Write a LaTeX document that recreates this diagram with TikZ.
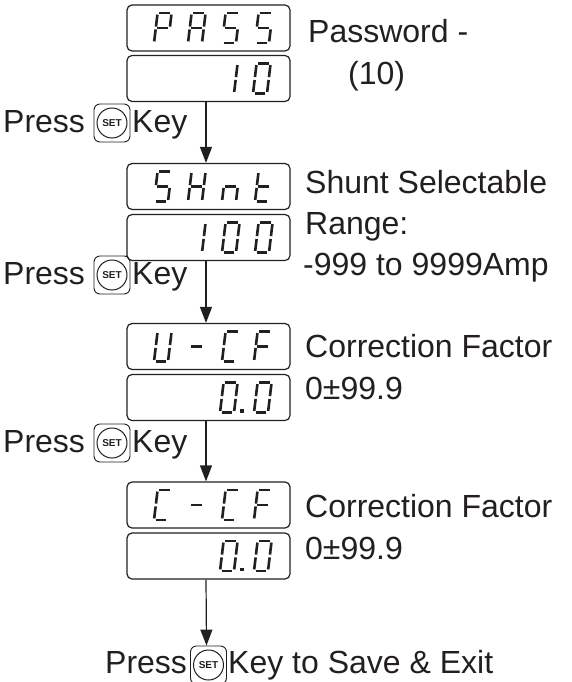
\documentclass[tikz,border=0pt]{standalone}
\usepackage{fontspec}
\setmainfont{Liberation Sans}
\usetikzlibrary{arrows.meta}
\definecolor{ink}{RGB}{35,31,32}
\expandafter\def\csname svsga\endcsname{(1.6,-30) -- (12.4,-30)}
\expandafter\def\csname svsgb\endcsname{(14,-28.4) -- (14,-16.4)}
\expandafter\def\csname svsgc\endcsname{(14,-13.6) -- (14,-1.6)}
\expandafter\def\csname svsgd\endcsname{(1.6,0) -- (12.4,0)}
\expandafter\def\csname svsge\endcsname{(0,-13.6) -- (0,-1.6)}
\expandafter\def\csname svsgf\endcsname{(0,-28.4) -- (0,-16.4)}
\expandafter\def\csname svsgg\endcsname{(1.6,-15) -- (12.4,-15)}
\newcommand\sevenseg[3]{%
  \begin{scope}[shift={(#1,#2)},xslant=0.12]
    \foreach \s in {#3}{\edef\svtmp{\noexpand\draw[segline] \csname svsg\s\endcsname;}\svtmp}
  \end{scope}}
\begin{document}
\begin{tikzpicture}[x=1pt,y=-1pt,
  box/.style={draw=ink, line width=1.2pt, rounded corners=5pt, minimum width=163pt, minimum height=46pt, inner sep=0},
  segline/.style={draw=ink, line width=2.6pt, line cap=butt},
  txt/.style={inner sep=0, anchor=base west, text=ink, font=\fontsize{32}{40}\selectfont},
  arr/.style={draw=ink, line width=1.2pt, -{Triangle[length=16pt,width=12pt]}},
  keyrect/.style={draw=ink, rounded corners=6pt, minimum width=36pt, minimum height=38pt, inner sep=0, line width=0.9pt},
  keycirc/.style={draw=ink, circle, minimum size=30pt, inner sep=0, line width=1pt, text=ink, font=\fontsize{10}{10}\bfseries\selectfont}]
\useasboundingbox (0,0) rectangle (571,682);
% display boxes
\node[box] (b1) at (208.5,28) {};
\node[box] (b2) at (208.5,78.5) {};
\node[box] (b3) at (208.5,186.5) {};
\node[box] (b4) at (208.5,237.5) {};
\node[box] (b5) at (208.5,346.5) {};
\node[box] (b6) at (208.5,397.5) {};
\node[box] (b7) at (208.5,505) {};
\node[box] (b8) at (208.5,556) {};
% PASS / 10
\sevenseg{154}{43}{a,b,e,f,g}
\sevenseg{188}{43}{a,b,c,e,f,g}
\sevenseg{222}{43}{a,c,d,f,g}
\sevenseg{255}{43}{a,c,d,f,g}
\sevenseg{220}{93.5}{b,c}
\sevenseg{253}{93.5}{a,b,c,d,e,f}
% SHnt / 100
\sevenseg{154}{201.5}{a,c,d,f,g}
\sevenseg{188}{201.5}{b,c,e,f,g}
\sevenseg{222}{201.5}{c,e,g}
\sevenseg{255}{201.5}{d,e,f,g}
\sevenseg{188}{252.5}{b,c}
\sevenseg{222}{252.5}{a,b,c,d,e,f}
\sevenseg{255}{252.5}{a,b,c,d,e,f}
% U-CF / 0.0
\sevenseg{154}{361.5}{b,c,d,e,f}
\sevenseg{188}{361.5}{g}
\sevenseg{222}{361.5}{a,d,e,f}
\sevenseg{254}{361.5}{a,e,f,g}
\sevenseg{220}{412.5}{a,b,c,d,e,f}
\fill[ink] (240,412.5) rectangle (243.5,409);
\sevenseg{254}{412.5}{a,b,c,d,e,f}
% C-CF / 0.0
\sevenseg{154}{520}{a,d,e,f}
\sevenseg{188}{520}{g}
\sevenseg{222}{520}{a,d,e,f}
\sevenseg{254}{520}{a,e,f,g}
\sevenseg{220}{571}{a,b,c,d,e,f}
\fill[ink] (240,571) rectangle (243.5,567.5);
\sevenseg{254}{571}{a,b,c,d,e,f}
% right labels
\node[txt] (t1) at (308,43) {Password -};
\node[txt] (t2) at (348,85) {(10)};
\node[txt] (t3) at (305,193) {Shunt Selectable};
\node[txt] (t4) at (305,234) {Range:};
\node[txt] (t5) at (303,275) {-999 to 9999Amp};
\node[txt] (t6) at (305,357) {Correction Factor};
\node[txt] (t7) at (305,399) {0±99.9};
\node[txt] (t8) at (305,517) {Correction Factor};
\node[txt] (t9) at (305,559) {0±99.9};
% press rows
\node[txt] (p1) at (3,132) {Press};
\node[keyrect] (k1) at (112,123) {};
\node[keycirc] (c1) at (112,123) {SET};
\node[txt] (y1) at (132,132) {Key};
\node[txt] (p2) at (3,284) {Press};
\node[keyrect] (k2) at (112,275) {};
\node[keycirc] (c2) at (112,275) {SET};
\node[txt] (y2) at (132,284) {Key};
\node[txt] (p3) at (3,452) {Press};
\node[keyrect] (k3) at (112,443) {};
\node[keycirc] (c3) at (112,443) {SET};
\node[txt] (y3) at (132,452) {Key};
\node[txt] (p4) at (105,673) {Press};
\node[keyrect] (k4) at (208.5,665) {};
\node[keycirc] (c4) at (208.5,665) {SET};
\node[txt] (y4) at (228,673) {Key to Save \& Exit};
% arrows
\draw[arr] ([xshift=-2.5pt]b2.south) -- ([xshift=-2.5pt]b3.north);
\draw[arr] ([xshift=-2.5pt]b4.south) -- ([xshift=-2.5pt]b5.north);
\draw[arr] ([xshift=-2.5pt]b6.south) -- ([xshift=-2.5pt]b7.north);
\draw[arr] ([xshift=-2.5pt]b8.south) -- ([xshift=-2pt]k4.north);
\end{tikzpicture}
\end{document}
